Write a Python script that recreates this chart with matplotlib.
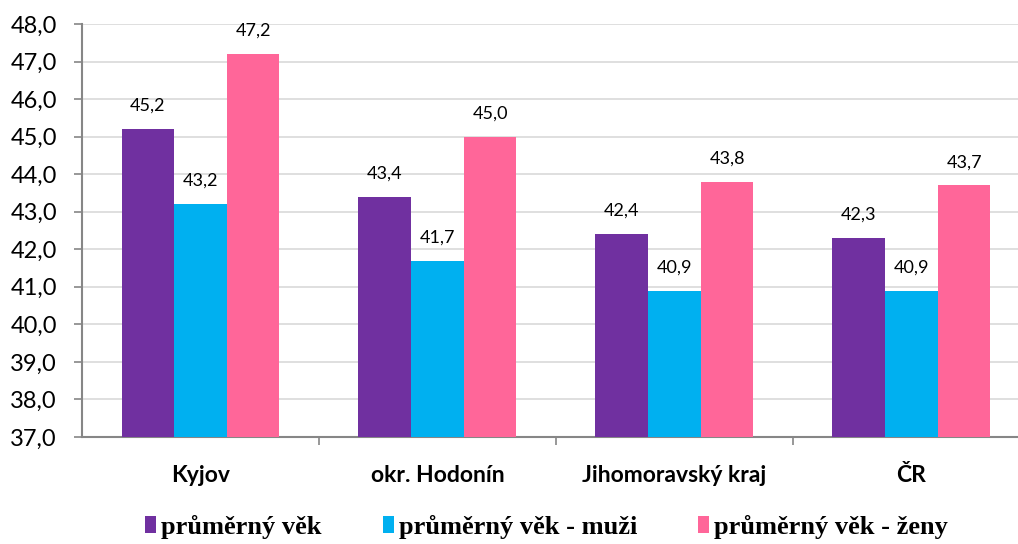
import numpy as np
import matplotlib.pyplot as plt
from matplotlib.patches import Patch
from matplotlib.ticker import MultipleLocator, FuncFormatter

categories = ["Kyjov", "okr. Hodonín", "Jihomoravský kraj", "ČR"]
series_names = ["průměrný věk", "průměrný věk - muži", "průměrný věk - ženy"]
avg_all = [45.2, 43.4, 42.4, 42.3]
avg_men = [43.2, 41.7, 40.9, 40.9]
avg_women = [47.2, 45.0, 43.8, 43.7]
colors = ["#7030A0", "#00B0F0", "#FF6699"]

plt.rcParams['font.family'] = ['Lato', 'DejaVu Sans']

fig = plt.figure(figsize=(10.18, 5.44), dpi=100)
# pravý okraj grafu je v originále oříznutý
ax = fig.add_axes([82 / 1018, 1 - 437 / 544, 948 / 1018, 413 / 544])

x = np.arange(len(categories))
w = 1 / 4.5
for i, vals in enumerate([avg_all, avg_men, avg_women]):
    pos = x + (i - 1) * w
    ax.bar(pos, vals, width=w, bottom=0, color=colors[i], zorder=3)
    for px, v in zip(pos, vals):
        ax.annotate(f"{v:.1f}".replace(".", ","), (px, v), xytext=(0, 11),
                    textcoords="offset points", ha="center", va="bottom",
                    fontsize=13, color="black")

ax.set_ylim(37, 48)
ax.set_xlim(-0.5, 3.5)
ax.yaxis.set_major_locator(MultipleLocator(1))
ax.yaxis.set_major_formatter(FuncFormatter(lambda v, p: f"{v:.1f}".replace(".", ",")))
ax.grid(axis="y", color="#d9d9d9", linewidth=1.2, zorder=0)

ax.set_xticks(x)
ax.set_xticklabels(categories, fontsize=16.5, fontweight="bold")
ax.set_xticks([0.5, 1.5, 2.5], minor=True)
ax.tick_params(axis="x", which="major", length=0, pad=20)
ax.tick_params(axis="x", which="minor", length=6, color="#868686", width=1.2)
ax.tick_params(axis="y", length=6, color="#868686", width=1.2, labelsize=17, pad=12)

for s in ["top", "right"]:
    ax.spines[s].set_visible(False)
for s in ["left", "bottom"]:
    ax.spines[s].set_color("#868686")
    ax.spines[s].set_linewidth(1.5)

handles = [Patch(facecolor=c, edgecolor="none") for c in colors]
fig.legend(handles, series_names, loc="center", bbox_to_anchor=(0.537, 0.032), ncol=3,
           frameon=False, handlelength=0.42, handleheight=0.6, handletextpad=0.2,
           columnspacing=2.3, prop={"family": "Liberation Serif", "weight": "bold", "size": 19})

fig.savefig("out.png", dpi=100)
